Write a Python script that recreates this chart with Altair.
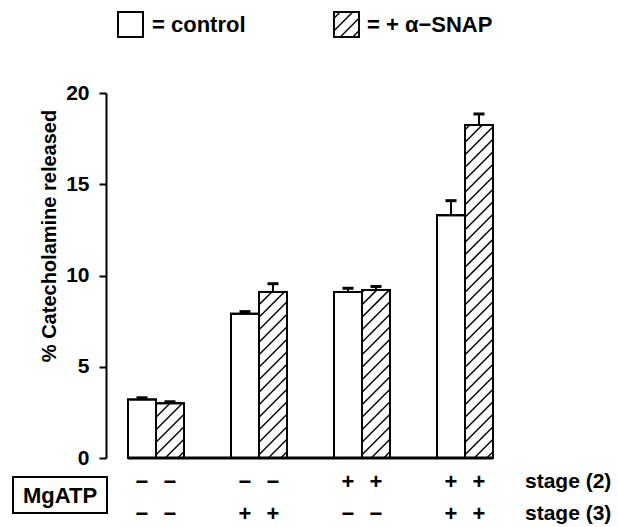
import altair as alt
import pandas as pd

# ---------------- data ----------------
stage2 = ["−", "−", "+", "+"]
stage3 = ["−", "+", "−", "+"]
control = [3.2, 7.9, 9.1, 13.3]
control_err = [0.1, 0.12, 0.2, 0.8]
snap = [3.0, 9.1, 9.2, 18.25]
snap_err = [0.08, 0.45, 0.2, 0.6]
treatments = ["control", "+ α-SNAP"]
y_ticks = [0, 5, 10, 15, 20]
y_title = "% Catecholamine released"
stage_labels = ["stage (2)", "stage (3)"]
box_label = "MgATP"

# ---------------- layout (pixels) ----------------
LEFT, TOP = 106, 93
W, H = 394, 365
PX_X = 103.0      # px per group
X_OFF = 50.0      # px from plot left to centre of group 0
PX_Y = H / 20.0
BAR_W = 28.0
CAP = 5.5
HATCH_STEP = 12.5
FONT = "Liberation Sans"


def xd(px):
    return (px - X_OFF) / PX_X


def yd(px):
    return px / PX_Y


def hatch(x0, x1, y0, y1):
    segs = []
    w, h = x1 - x0, y1 - y0
    c = -w + HATCH_STEP / 2
    while c < h:
        xs, xe = max(0.0, -c), min(w, h - c)
        if xe > xs:
            segs.append(dict(x=xd(x0 + xs), y=yd(y0 + xs + c),
                             x2=xd(x0 + xe), y2=yd(y0 + xe + c)))
        c += HATCH_STEP
    return segs


rows, hatch_rows = [], []
for g in range(4):
    for t, (vals, errs) in enumerate([(control, control_err), (snap, snap_err)]):
        left = X_OFF + PX_X * g + (t - 1) * BAR_W
        mid = left + BAR_W / 2
        rows.append(dict(treatment=treatments[t], x=xd(left), x2=xd(left + BAR_W),
                         y=0.0, y2=vals[g], xc=xd(mid), top=vals[g] + errs[g],
                         c1=xd(mid - CAP), c2=xd(mid + CAP), s2=stage2[g], s3=stage3[g]))
        if t == 1:
            hatch_rows += hatch(left, left + BAR_W, 0.0, vals[g] * PX_Y)
bars = pd.DataFrame(rows)

# legend boxes (pixels relative to plot left / above the zero line)
leg = pd.DataFrame([
    dict(treatment=treatments[0], x=xd(12), x2=xd(37), y=yd(421), y2=yd(446)),
    dict(treatment=treatments[1], x=xd(228), x2=xd(253), y=yd(421), y2=yd(446)),
])
hatch_rows += hatch(228, 253, 421, 446)
hatch_df = pd.DataFrame(hatch_rows)

base_df = pd.DataFrame([dict(x=bars["x"].min(), x2=bars["x2"].max(), y=0.0)])
one = pd.DataFrame([dict(a=1)])

xs = alt.Scale(domain=[xd(0), xd(W)], nice=False, zero=False)
ys = alt.Scale(domain=[0, 20], nice=False, zero=False)

yaxis = alt.Axis(values=y_ticks, grid=False, title=None, domainColor="black",
                 domainWidth=2, tickColor="black", tickWidth=2, tickSize=7,
                 labelFont=FONT, labelFontWeight="bold", labelFontSize=21,
                 labelColor="black", labelPadding=10)

X = lambda f: alt.X(f, type="quantitative", scale=xs, axis=None)
Y = lambda f: alt.Y(f, type="quantitative", scale=ys, axis=yaxis)

bar_layer = alt.Chart(bars).mark_rect(fill="white", stroke="black", strokeWidth=2).encode(
    x=X("x"), x2="x2", y=Y("y"), y2="y2")

err_layer = alt.Chart(bars).mark_rule(color="black", strokeWidth=2).encode(
    x=X("xc"), y=Y("y2"), y2="top")
cap_layer = alt.Chart(bars).mark_rule(color="black", strokeWidth=3).encode(
    x=X("c1"), x2="c2", y=Y("top"))

leg_layer = alt.Chart(leg).mark_rect(fill="white", stroke="black", strokeWidth=2).encode(
    x=X("x"), x2="x2", y=Y("y"), y2="y2")

hatch_layer = alt.Chart(hatch_df).mark_rule(color="black", strokeWidth=1.5).encode(
    x=X("x"), x2="x2", y=Y("y"), y2="y2")

outline = alt.Chart(bars).mark_rect(fill=None, stroke="black", strokeWidth=2).encode(
    x=X("x"), x2="x2", y=Y("y"), y2="y2")
leg_outline = alt.Chart(leg).mark_rect(fill=None, stroke="black", strokeWidth=2).encode(
    x=X("x"), x2="x2", y=Y("y"), y2="y2")

base_layer = alt.Chart(base_df).mark_rule(color="black", strokeWidth=3).encode(
    x=X("x"), x2="x2", y=Y("y"))

txt = dict(font=FONT, fontWeight="bold", color="black")

leg_text1 = alt.Chart(one).mark_text(align="left", baseline="middle", fontSize=22, **txt).encode(
    x=alt.value(46), y=alt.value(-68), text=alt.value("= " + treatments[0]))
leg_text2 = alt.Chart(one).mark_text(align="left", baseline="middle", fontSize=22, **txt).encode(
    x=alt.value(261), y=alt.value(-68), text=alt.value("= + α−SNAP"))

title_layer = alt.Chart(one).mark_text(align="center", baseline="middle", angle=270,
                                       fontSize=20, **txt).encode(
    x=alt.value(-56), y=alt.value(143), text=alt.value(y_title))

sign2 = alt.Chart(bars).mark_text(align="center", baseline="middle", fontSize=22, **txt).encode(
    x=X("xc"), y=alt.value(389), text="s2:N")
sign3 = alt.Chart(bars).mark_text(align="center", baseline="middle", fontSize=22, **txt).encode(
    x=X("xc"), y=alt.value(421), text="s3:N")

stage_t2 = alt.Chart(one).mark_text(align="left", baseline="middle", fontSize=21, **txt).encode(
    x=alt.value(419), y=alt.value(389), text=alt.value(stage_labels[0]))
stage_t3 = alt.Chart(one).mark_text(align="left", baseline="middle", fontSize=21, **txt).encode(
    x=alt.value(419), y=alt.value(421), text=alt.value(stage_labels[1]))

box = alt.Chart(one).mark_rect(fill="white", stroke="black", strokeWidth=2).encode(
    x=alt.value(-93), x2=alt.value(1), y=alt.value(384), y2=alt.value(420))
box_text = alt.Chart(one).mark_text(align="center", baseline="middle", fontSize=22, **txt).encode(
    x=alt.value(-46), y=alt.value(403), text=alt.value(box_label))

chart = alt.layer(
    bar_layer, leg_layer, hatch_layer, outline, leg_outline, err_layer, cap_layer,
    base_layer, leg_text1, leg_text2, title_layer,
    sign2, sign3, stage_t2, stage_t3, box, box_text,
).properties(
    width=W, height=H,
    padding={"left": LEFT, "top": TOP, "right": 618 - LEFT - W, "bottom": 527 - TOP - H},
    autosize=alt.AutoSizeParams(type="none"),
).configure_view(stroke=None)

chart.save("out.html", embed_options={"renderer": "svg", "actions": False})
